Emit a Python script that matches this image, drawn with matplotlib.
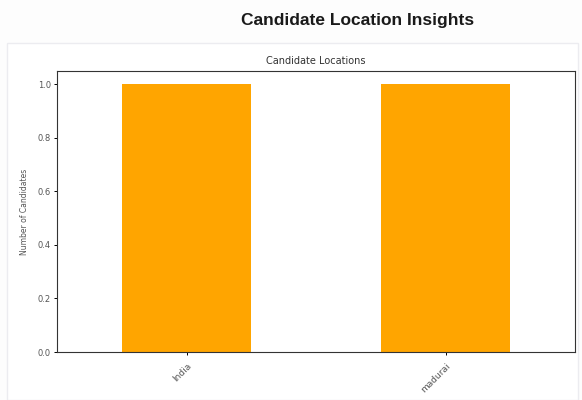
import matplotlib
matplotlib.use("Agg")
import matplotlib.pyplot as plt
from matplotlib.patches import Rectangle

# Data
locations = ["India", "madurai"]
counts = [1, 1]
yticks = [0.0, 0.2, 0.4, 0.6, 0.8, 1.0]

fig = plt.figure(figsize=(5.82, 4.0), dpi=100)
fig.patch.set_facecolor("#fdfdfd")

# Card panel
card = Rectangle((7 / 582, 0), (578 - 7) / 582, (400 - 43) / 400,
                 transform=fig.transFigure, facecolor="white",
                 edgecolor="#ececf0", linewidth=1.0, zorder=-10)
fig.patches.append(card)

fig.text(358 / 582, 1 - 20 / 400, "Candidate Location Insights",
         ha="center", va="center", fontsize=12.5, fontweight="bold",
         family="Liberation Sans", color="#1a1a1a")

ax = fig.add_axes([57 / 582, 48 / 400, 518 / 582, 281 / 400])
ax.set_zorder(5)
ax.set_facecolor("white")
x = list(range(len(locations)))
ax.bar(x, counts, width=0.5, color="#FFA500")
ax.set_xlim(-0.5, len(locations) - 0.5)
ax.set_ylim(0, 1.05)
ax.set_yticks(yticks)
ax.set_yticklabels([f"{v:.1f}" for v in yticks])
ax.set_xticks(x)
ax.set_xticklabels(locations, rotation=45, ha="right", rotation_mode="anchor")
ax.tick_params(axis="y", labelsize=6, labelcolor="#555555",
               length=2.5, width=0.7, pad=2)
ax.tick_params(axis="x", labelsize=6.5, labelcolor="#555555",
               length=2.5, width=0.7, pad=4)
ax.set_ylabel("Number of Candidates", fontsize=5.5, color="#555555", labelpad=6)
ax.set_title("Candidate Locations", fontsize=7, color="#333333", pad=5)
for s in ax.spines.values():
    s.set_linewidth(0.8)
    s.set_color("#333333")

fig.savefig("out.png", dpi=100, facecolor=fig.get_facecolor())
